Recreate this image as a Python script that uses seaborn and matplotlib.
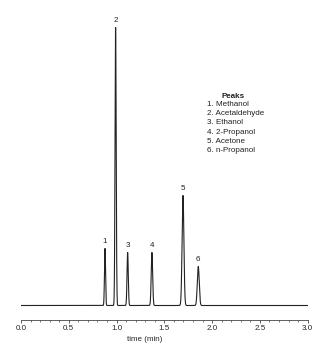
import numpy as np
import pandas as pd
import matplotlib
matplotlib.use("Agg")
import matplotlib.pyplot as plt
import seaborn as sns

# Peak data
peak_labels = ["1", "2", "3", "4", "5", "6"]
peak_names = ["Methanol", "Acetaldehyde", "Ethanol", "2-Propanol", "Acetone", "n-Propanol"]
retention_times = [0.879, 0.990, 1.116, 1.370, 1.695, 1.855]
peak_heights = [57, 278, 53, 53, 110, 39]
peak_sigmas = [0.0055, 0.0060, 0.0065, 0.0075, 0.0095, 0.0100]

sns.set_theme(style="white")
plt.rcParams["font.family"] = ["Liberation Sans", "DejaVu Sans"]
FS = 5.8

t = np.linspace(0.0, 3.0, 6001)
signal = np.zeros_like(t)
for rt, h, s in zip(retention_times, peak_heights, peak_sigmas):
    signal += h * np.exp(-0.5 * ((t - rt) / s) ** 2)
df = pd.DataFrame({"time": t, "signal": signal})

fig = plt.figure(figsize=(3.29, 3.60), dpi=100)
ax = fig.add_axes([21 / 329, 40 / 360, (307.7 - 21) / 329, 310 / 360])
sns.lineplot(data=df, x="time", y="signal", ax=ax, color="#222222", linewidth=0.8)

for lab, rt, h in zip(peak_labels, retention_times, peak_heights):
    ax.annotate(lab, (rt, h), xytext=(0, 2.8), textcoords="offset points",
                ha="center", va="bottom", fontsize=FS, color="#222222")

ax.set_xlim(0, 3.0)
ax.set_ylim(-14.5, 295.5)
ax.set_xticks(np.arange(0, 3.01, 0.5))
ax.set_xticks(np.arange(0, 3.01, 0.1), minor=True)
ax.set_xticklabels([f"{v:.1f}" for v in np.arange(0, 3.01, 0.5)])
ax.set_yticks([])
ax.set_xlabel("time (min)", fontsize=FS)
ax.xaxis.set_label_coords((145 - 21) / 286.7, -19.3 / 310)
ax.xaxis.label.set_va("center")
ax.set_ylabel("")
ax.tick_params(axis="x", which="major", direction="out", length=2.2, width=0.6,
               labelsize=FS, pad=1.6, bottom=True, color="#444444")
ax.tick_params(axis="x", which="minor", direction="out", length=1.5, width=0.5,
               bottom=True, color="#444444")
for side in ["top", "right", "left"]:
    ax.spines[side].set_visible(False)
ax.spines["bottom"].set_color("#444444")
ax.spines["bottom"].set_linewidth(0.6)
ax.patch.set_alpha(0)

# Legend block
fig.text(232.7 / 329, 1 - 97 / 360, "Peaks", ha="center", va="center",
         fontsize=FS, fontweight="bold", color="#222222")
for i, name in enumerate(peak_names):
    fig.text(206.7 / 329, 1 - (104.2 + i * 9.35) / 360, f"{peak_labels[i]}. {name}",
             ha="left", va="center", fontsize=FS, color="#222222")

fig.savefig("out.png", dpi=100)
